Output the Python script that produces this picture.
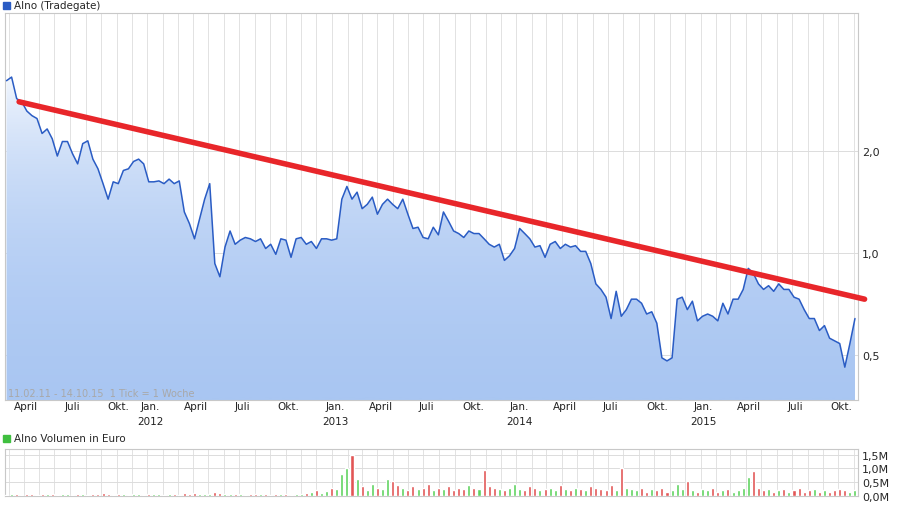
import numpy as np, pandas as pd, seaborn as sns
import matplotlib
matplotlib.use("Agg")
import matplotlib.pyplot as plt
import matplotlib.dates as mdates
from matplotlib.ticker import FixedLocator, NullLocator

sns.set_style("white")
plt.rcParams['font.family'] = ['DejaVu Sans']

price = [3.22,3.30,2.85,2.79,2.62,2.54,2.49,2.25,2.32,2.17,1.93,2.13,2.13,1.96,1.83,2.10,2.14,1.89,1.77,1.60,1.44,1.62,1.60,1.75,1.77,1.86,1.89,1.83,1.62,1.62,1.63,1.60,1.65,1.60,1.63,1.32,1.22,1.10,1.26,1.44,1.60,0.93,0.85,1.04,1.16,1.06,1.09,1.11,1.10,1.08,1.10,1.03,1.06,0.99,1.10,1.09,0.97,1.10,1.11,1.06,1.08,1.03,1.10,1.10,1.09,1.10,1.44,1.57,1.44,1.51,1.35,1.39,1.46,1.30,1.39,1.44,1.39,1.35,1.44,1.30,1.18,1.19,1.11,1.10,1.19,1.13,1.32,1.24,1.16,1.14,1.11,1.16,1.14,1.14,1.10,1.06,1.04,1.06,0.95,0.98,1.03,1.18,1.14,1.10,1.04,1.05,0.97,1.06,1.08,1.03,1.06,1.04,1.05,1.01,1.01,0.93,0.81,0.78,0.74,0.64,0.77,0.65,0.68,0.73,0.73,0.71,0.66,0.67,0.62,0.49,0.48,0.49,0.73,0.74,0.68,0.72,0.63,0.65,0.66,0.65,0.63,0.71,0.66,0.73,0.73,0.78,0.90,0.87,0.81,0.78,0.80,0.77,0.81,0.78,0.78,0.74,0.73,0.68,0.64,0.64,0.59,0.61,0.56,0.55,0.54,0.46,0.54,0.64]
volume = [0.05,0.07,0.06,0.05,0.08,0.06,0.05,0.07,0.06,0.08,0.05,0.06,0.07,0.05,0.06,0.08,0.05,0.07,0.06,0.1,0.07,0.05,0.06,0.08,0.05,0.07,0.06,0.05,0.07,0.06,0.08,0.05,0.06,0.07,0.05,0.1,0.08,0.12,0.07,0.09,0.08,0.14,0.1,0.07,0.06,0.08,0.07,0.05,0.06,0.08,0.06,0.07,0.05,0.06,0.07,0.06,0.05,0.08,0.07,0.1,0.15,0.22,0.12,0.18,0.3,0.25,0.8,1.0,1.5,0.6,0.35,0.2,0.45,0.3,0.25,0.6,0.55,0.4,0.3,0.2,0.35,0.25,0.3,0.45,0.2,0.3,0.25,0.35,0.2,0.3,0.25,0.4,0.3,0.25,0.95,0.35,0.3,0.25,0.2,0.3,0.45,0.25,0.2,0.35,0.3,0.2,0.25,0.3,0.2,0.4,0.25,0.2,0.3,0.25,0.2,0.35,0.3,0.25,0.2,0.4,0.2,1.0,0.3,0.25,0.2,0.3,0.15,0.25,0.2,0.3,0.15,0.2,0.45,0.25,0.55,0.2,0.15,0.25,0.2,0.3,0.15,0.2,0.25,0.15,0.2,0.3,0.7,0.9,0.3,0.2,0.25,0.15,0.2,0.25,0.15,0.2,0.3,0.15,0.2,0.25,0.15,0.2,0.15,0.2,0.25,0.2,0.15,0.2]
trend_dates = ["2011-04-22", "2015-11-22"]
trend_vals = [2.79, 0.73]

dates = pd.date_range("2011-03-28", "2015-11-03", periods=len(price))
df = pd.DataFrame({"date": dates, "price": price, "volume": volume})

fig = plt.figure(figsize=(9, 5.06), dpi=100)
W, H = 900, 506
ax = fig.add_axes([5/W, 1-401/H, 853/W, 387/H])
axv = fig.add_axes([5/W, 1-497/H, 853/W, 47/H])

x0, x1 = pd.Timestamp("2011-03-25"), pd.Timestamp("2015-11-09")
ymin, ymax = 0.368, 5.1

ax.set_yscale("log")
ax.set_xlim(x0, x1); ax.set_ylim(ymin, ymax)
grad = np.linspace(0, 1, 256).reshape(-1, 1)
cmap = matplotlib.colors.LinearSegmentedColormap.from_list("g", ["#f4f8fe", "#a9c6f2"])
im = ax.imshow(grad, aspect="auto", cmap=cmap, origin="upper",
               extent=[mdates.date2num(x0), mdates.date2num(x1), ymin, 3.4], zorder=1)
xs = mdates.date2num(df["date"])
poly = ax.fill_between(xs, df["price"], ymin, color="none")
im.set_clip_path(poly.get_paths()[0], transform=ax.transData)

sns.lineplot(data=df, x="date", y="price", ax=ax, color="#2a5cc4", lw=1.1, zorder=3)
ax.plot(pd.to_datetime(trend_dates), trend_vals, color="#e8262a", lw=4, zorder=4,
        solid_capstyle="round", clip_on=False)

for a in (ax, axv):
    for s in a.spines.values():
        s.set_color("#c8c8c8"); s.set_linewidth(0.8)
    a.xaxis.set_major_locator(mdates.MonthLocator())
    a.grid(True, axis="x", color="#e2e2e2", lw=0.7)
    a.set_xlim(x0, x1)
    a.set_xlabel(""); a.set_ylabel("")

ax.yaxis.tick_right()
ax.yaxis.set_major_locator(FixedLocator([0.5, 1.0, 2.0]))
ax.yaxis.set_minor_locator(NullLocator())
ax.set_yticklabels(["0,5", "1,0", "2,0"])
ax.grid(True, axis="y", color="#dcdcdc", lw=0.7)
ax.tick_params(axis="y", length=0, labelsize=8, pad=3)
ax.tick_params(axis="x", length=0)
ax.set_xticklabels([])
for d in pd.date_range("2011-04-01", "2015-10-01", freq="3MS"):
    lab = {1: "Jan.", 4: "April", 7: "Juli", 10: "Okt."}[d.month]
    off = 35 if d.year == 2011 else 6
    ax.text(d + pd.Timedelta(days=off), ymin * 0.99, lab, ha="center",
            va="top", fontsize=7.5, color="#222")
    if d.month == 1:
        ax.text(d + pd.Timedelta(days=off), ymin * 0.895, str(d.year), ha="center",
                va="top", fontsize=7.5, color="#222")
ax.text(0.003, 0.005, "11.02.11 - 14.10.15  1 Tick = 1 Woche", transform=ax.transAxes,
        fontsize=7, color="#a8a8a8", va="bottom")

colors = ["#5ed35e"] + ["#5ed35e" if p >= q else "#e25555" for p, q in zip(price[1:], price[:-1])]
axv.bar(df["date"], df["volume"], width=6, color=colors, zorder=3)
axv.set_ylim(0, 1.7)
axv.yaxis.tick_right()
axv.set_yticks([0, 0.5, 1.0, 1.5])
axv.set_yticklabels(["0,0M", "0,5M", "1,0M", "1,5M"])
axv.grid(True, axis="y", color="#dcdcdc", lw=0.7)
axv.tick_params(axis="y", length=0, labelsize=8, pad=3)
axv.tick_params(axis="x", length=0)
axv.set_xticklabels([])

fig.patches.append(plt.Rectangle((3/W, 1-10/H), 7/W, 7/H, transform=fig.transFigure, color="#2a5cc4"))
fig.text(14/W, 1-6/H, "Alno (Tradegate)", fontsize=7.5, va="center")
fig.patches.append(plt.Rectangle((3/W, 1-443/H), 7/W, 7/H, transform=fig.transFigure, color="#3fbf3f"))
fig.text(14/W, 1-439/H, "Alno Volumen in Euro", fontsize=7.5, va="center")

fig.savefig("out.png", dpi=100)
